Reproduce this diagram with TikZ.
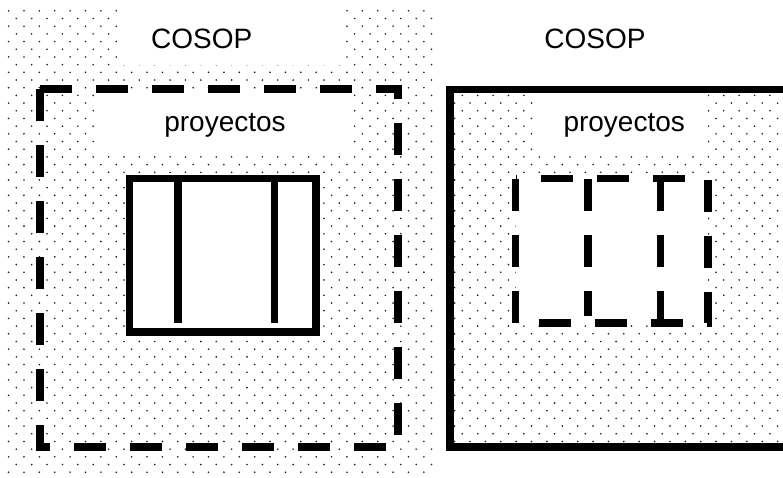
\documentclass[tikz,border=0pt]{standalone}
\usepackage{fontspec}
\setmainfont{Liberation Sans}
\tikzset{
    lbl/.style={font=\fontsize{28}{34}\selectfont, inner sep=0pt, anchor=base},
    heavy/.style={line width=7.5pt},
    dashheavy/.style={line width=7.5pt, dash pattern=on 32pt off 24pt},
    dotfill/.style={fill=black!90},
}
\begin{document}
\begin{tikzpicture}[x=1pt,y=-1pt]
    \useasboundingbox (0,0) rectangle (783,477);
    % dotted background
    \begin{scope}
        \clip (5,5) rectangle (436,476) (446,86) rectangle (790,451);
        \foreach \i in {0,...,50} {
            \foreach \j in {0,...,30} {
                \fill[dotfill] (8.6+15.38*\i,10.8+15.38*\j) circle [radius=0.9pt];
                \fill[dotfill] (16.3+15.38*\i,18.5+15.38*\j) circle [radius=0.9pt];
            }
        }
    \end{scope}
    \fill[white] (123,0) rectangle (341,65);
    \fill[white] (100,93) rectangle (348,153);
    \fill[white] (538,93) rectangle (708,153);
    \fill[white] (129.5,178.7) rectangle (316,332);
    \fill[white] (515.5,178.7) rectangle (708,323);
    % left: COSOP dashed, proyectos solid
    \draw[dashheavy] (40,89) -- (398,89) -- (398,447) -- (40,447) -- cycle;
    \draw[heavy] (129.5,178.7) rectangle (316,332);
    \draw[heavy] (178,178.7) -- (178,323.3);
    \draw[heavy] (274.5,178.7) -- (274.5,323.3);
    % right: COSOP solid, proyectos dashed
    \draw[heavy] (450,89.7) rectangle (795,447);
    \draw[dashheavy] (515.5,178.7) -- (515.5,323) -- (708,323) -- (708,178.7) -- cycle;
    \draw[dashheavy] (588,178.7) -- (588,316);
    \draw[dashheavy] (660.5,178.7) -- (660.5,323);
    \node[lbl] (cosopA) at (201.7,48.3) {COSOP};
    \node[lbl] (proyA) at (225,131.7) {proyectos};
    \node[lbl] (cosopB) at (595,48.3) {COSOP};
    \node[lbl] (proyB) at (624.2,131.7) {proyectos};
\end{tikzpicture}
\end{document}
